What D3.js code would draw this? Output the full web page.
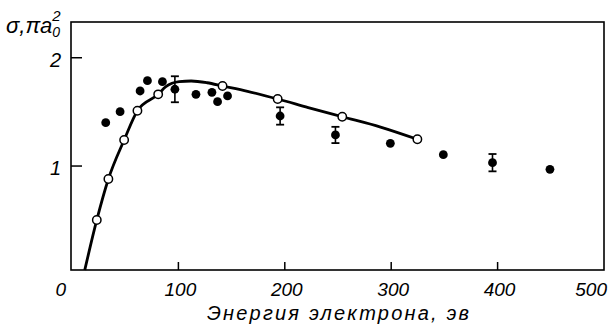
<!DOCTYPE html>
<html><head><meta charset="utf-8">
<script src="https://cdn.jsdelivr.net/npm/d3@7"></script>
<style>body{margin:0;background:#fff}</style>
</head><body>
<svg id="c" width="614" height="329"></svg>
<script>
// Data
const xTicks = [0, 100, 200, 300, 400, 500];
const yTicks = [1, 2];
const theoryX = [12, 23.3, 34.2, 49, 61.5, 81, 88.2, 100.8, 112, 127, 141.5, 165, 193.3, 222, 254, 290, 324.6];
const theoryY = [0.04, 0.502, 0.880, 1.240, 1.511, 1.662, 1.733, 1.779, 1.785, 1.769, 1.739, 1.69, 1.619, 1.54, 1.455, 1.36, 1.247];
const openX = [23.3, 34.2, 49, 61.5, 81, 141.5, 193.3, 254, 324.6];
const openY = [0.502, 0.880, 1.240, 1.511, 1.662, 1.739, 1.619, 1.455, 1.247];
const expX = [31.7, 45.2, 64, 70.9, 85, 96.7, 116.5, 131.5, 136.8, 146.2, 195.6, 247.6, 299.2, 349, 395.2, 449.2];
const expY = [1.40, 1.502, 1.693, 1.788, 1.779, 1.709, 1.662, 1.681, 1.594, 1.647, 1.462, 1.287, 1.21, 1.105, 1.031, 0.97];
const expErr = [0, 0, 0, 0, 0, 0.12, 0, 0, 0, 0, 0.08, 0.075, 0, 0, 0.08, 0];
const xTitle = "Энергия  электрона,  эв";

const svg = d3.select("#c");
const x = d3.scaleLinear().domain([0, 500]).range([72, 604]);
const y = d3.scaleLinear().domain([0.04, 2.33]).range([270, 22]);
const font = "'Liberation Sans Narrow','Liberation Sans',sans-serif";

// frame
svg.append("rect").attr("x", x(0) - 1).attr("y", y(2.33)).attr("width", x(500) - x(0) + 1)
  .attr("height", y(0.04) - y(2.33)).attr("fill", "none").attr("stroke", "#000").attr("stroke-width", 1.6);

// x ticks
svg.append("g").selectAll("line").data(xTicks.filter(d => d > 0 && d < 500)).join("line")
  .attr("x1", d => x(d)).attr("x2", d => x(d)).attr("y1", y(0.04)).attr("y2", y(0.04) - 8)
  .attr("stroke", "#000").attr("stroke-width", 1.5);
svg.append("g").selectAll("text").data(xTicks).join("text")
  .attr("x", d => d === 0 ? x(d) - 6 : d === 500 ? x(d) + 3 : x(d) + 2)
  .attr("y", 296)
  .attr("text-anchor", d => d === 0 || d === 500 ? "end" : "middle")
  .attr("font-family", font).attr("font-style", "italic").attr("font-size", 19)
  .text(d => d);

// y ticks
svg.append("g").selectAll("line").data(yTicks).join("line")
  .attr("x1", x(0) - 1).attr("x2", x(0) + 10).attr("y1", d => y(d)).attr("y2", d => y(d))
  .attr("stroke", "#000").attr("stroke-width", 1.5);
svg.append("g").selectAll("text").data(yTicks).join("text")
  .attr("x", x(0) - 11).attr("y", d => y(d) + 9)
  .attr("text-anchor", "end")
  .attr("font-family", font).attr("font-style", "italic").attr("font-size", 20)
  .text(d => d);

// axis titles
svg.append("text").attr("x", (x(0) + x(500)) / 2 + 0).attr("y", 320)
  .attr("text-anchor", "middle").attr("textLength", 262).attr("lengthAdjust", "spacing")
  .attr("font-family", font).attr("font-style", "italic").attr("font-size", 20)
  .text(xTitle);
const yt = svg.append("text").attr("x", 6).attr("y", 33)
  .attr("font-family", font).attr("font-style", "italic").attr("font-size", 22);
yt.append("tspan").text("σ,πa");
yt.append("tspan").attr("dy", 4).attr("font-size", 14).text("0");
yt.append("tspan").attr("dx", -8).attr("dy", -16).attr("font-size", 15).text("2");

// theory curve
const line = d3.line().x(d => x(d[0])).y(d => y(d[1])).curve(d3.curveMonotoneX);
svg.append("path").datum(d3.zip(theoryX, theoryY)).attr("d", line)
  .attr("fill", "none").attr("stroke", "#000").attr("stroke-width", 2.8).attr("stroke-linejoin", "round");

// experimental points with error bars
const exp = d3.zip(expX, expY, expErr);
const eb = svg.append("g").selectAll("g").data(exp.filter(d => d[2] > 0)).join("g");
eb.append("line").attr("x1", d => x(d[0])).attr("x2", d => x(d[0]))
  .attr("y1", d => y(d[1] + d[2])).attr("y2", d => y(d[1] - d[2])).attr("stroke", "#000").attr("stroke-width", 1.6);
eb.append("line").attr("x1", d => x(d[0]) - 4).attr("x2", d => x(d[0]) + 4)
  .attr("y1", d => y(d[1] + d[2])).attr("y2", d => y(d[1] + d[2])).attr("stroke", "#000").attr("stroke-width", 1.8);
eb.append("line").attr("x1", d => x(d[0]) - 4).attr("x2", d => x(d[0]) + 4)
  .attr("y1", d => y(d[1] - d[2])).attr("y2", d => y(d[1] - d[2])).attr("stroke", "#000").attr("stroke-width", 1.8);
svg.append("g").selectAll("circle").data(exp).join("circle")
  .attr("cx", d => x(d[0])).attr("cy", d => y(d[1])).attr("r", 4.4).attr("fill", "#000");

// open circles
svg.append("g").selectAll("circle").data(d3.zip(openX, openY)).join("circle")
  .attr("cx", d => x(d[0])).attr("cy", d => y(d[1])).attr("r", 4.2)
  .attr("fill", "#fff").attr("stroke", "#000").attr("stroke-width", 1.5);
</script>
</body></html>
